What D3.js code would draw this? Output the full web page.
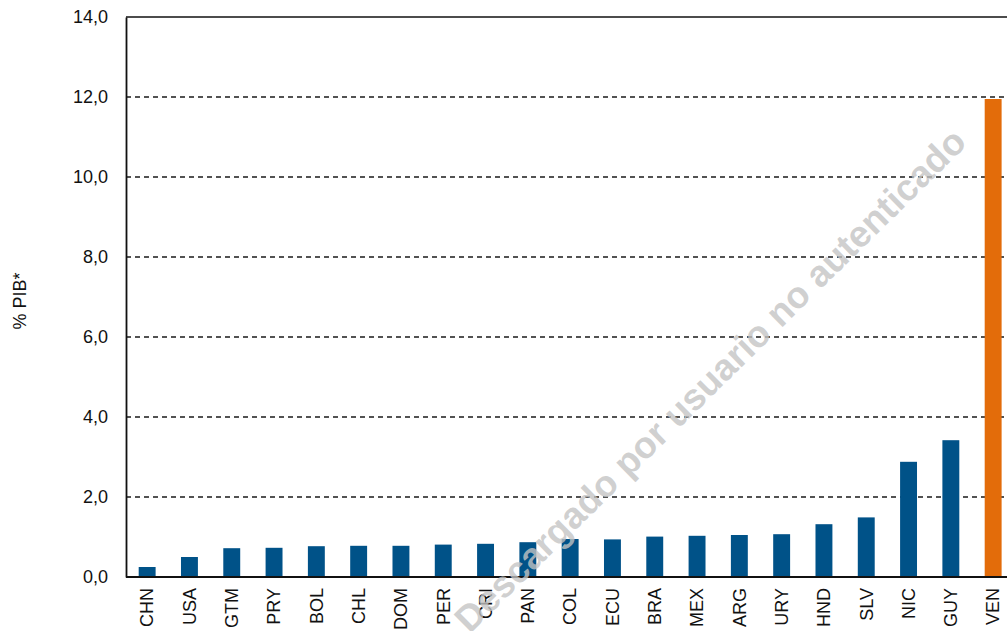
<!DOCTYPE html>
<html>
<head>
<meta charset="utf-8">
<script src="https://cdn.jsdelivr.net/npm/d3@7"></script>
<style>
    body { margin: 0; background: #fff; }
    svg { display: block; font-family: "Liberation Sans", Arial, sans-serif; }
</style>
</head>
<body>
<div id="chart"></div>
<script>
// Chart data
const countries = ['CHN', 'USA', 'GTM', 'PRY', 'BOL', 'CHL', 'DOM', 'PER', 'CRI', 'PAN',
    'COL', 'ECU', 'BRA', 'MEX', 'ARG', 'URY', 'HND', 'SLV', 'NIC', 'GUY', 'VEN'];
const values = [0.25, 0.5, 0.72, 0.73, 0.77, 0.78, 0.78, 0.81, 0.83, 0.87,
    0.95, 0.94, 1.01, 1.03, 1.05, 1.07, 1.32, 1.49, 2.88, 3.42, 11.95];
const highlighted = ['VEN'];
const yTicks = [0, 2, 4, 6, 8, 10, 12, 14];
const yLabel = '% PIB*';
const watermark = 'Descargado por usuario no autenticado';

function drawChart(containerId) {
    const width = 1007;
    const height = 631;
    const margin = { top: 17, left: 126 };
    const plotBottom = 577;
    const step = 42.3;
    const font = '"Liberation Sans", Arial, sans-serif';

    const svg = d3.select('#' + containerId)
        .append('svg')
        .attr('width', width)
        .attr('height', height);

    const x = d3.scaleBand()
        .domain(countries)
        .range([margin.left, margin.left + step * countries.length])
        .paddingInner(0.6)
        .paddingOuter(0.3);

    const y = d3.scaleLinear()
        .domain([0, 14])
        .range([plotBottom, margin.top]);

    // Gridlines (dashed)
    svg.append('g')
        .selectAll('line')
        .data(yTicks.filter(d => d > 0 && d < 14))
        .enter()
        .append('line')
        .attr('x1', margin.left)
        .attr('x2', width)
        .attr('y1', d => y(d))
        .attr('y2', d => y(d))
        .attr('stroke', '#1a1a1a')
        .attr('stroke-width', 1.5)
        .attr('stroke-dasharray', '5,4');

    // Top border line
    svg.append('line')
        .attr('x1', margin.left)
        .attr('x2', width)
        .attr('y1', y(14))
        .attr('y2', y(14))
        .attr('stroke', '#111')
        .attr('stroke-width', 1.5);

    // Bars
    svg.append('g')
        .selectAll('rect')
        .data(countries)
        .enter()
        .append('rect')
        .attr('x', d => x(d))
        .attr('width', x.bandwidth())
        .attr('y', (d, i) => y(values[i]))
        .attr('height', (d, i) => y(0) - y(values[i]))
        .attr('fill', d => highlighted.includes(d) ? '#e36c0a' : '#005288');

    // Y axis
    const yAxis = svg.append('g')
        .attr('transform', `translate(${margin.left},0)`)
        .call(d3.axisLeft(y).tickValues(yTicks).tickSize(0).tickPadding(18)
            .tickFormat(d => d3.format('.1f')(d).replace('.', ',')));
    yAxis.select('.domain').attr('stroke', '#111').attr('stroke-width', 1.8);
    yAxis.attr('font-size', 18).attr('font-family', font);
    yAxis.selectAll('text').attr('fill', '#111');

    // X axis
    const xAxis = svg.append('g')
        .attr('transform', `translate(0,${plotBottom})`)
        .call(d3.axisBottom(x).tickSize(0).tickPadding(0));
    xAxis.select('.domain').remove();
    xAxis.attr('font-size', 18).attr('font-family', font);
    svg.append('line')
        .attr('x1', margin.left)
        .attr('x2', width)
        .attr('y1', plotBottom)
        .attr('y2', plotBottom)
        .attr('stroke', '#111')
        .attr('stroke-width', 2);
    xAxis.selectAll('text')
        .attr('fill', '#111')
        .attr('text-anchor', 'end')
        .attr('transform', 'rotate(-90)')
        .attr('x', -11)
        .attr('y', 0)
        .attr('dy', '0.35em');

    // Y axis title
    svg.append('text')
        .attr('transform', 'translate(26,301) rotate(-90)')
        .attr('text-anchor', 'middle')
        .attr('font-size', '18px')
        .attr('fill', '#111')
        .text(yLabel);

    // Watermark
    svg.append('text')
        .attr('transform', 'translate(710,380) rotate(-44.5)')
        .attr('text-anchor', 'middle')
        .attr('dy', '0.35em')
        .attr('font-size', '37px')
        .attr('font-weight', 'bold')
        .attr('fill', '#c4c4c4')
        .attr('fill-opacity', 0.8)
        .text(watermark);
}

drawChart('chart');
</script>
</body>
</html>
